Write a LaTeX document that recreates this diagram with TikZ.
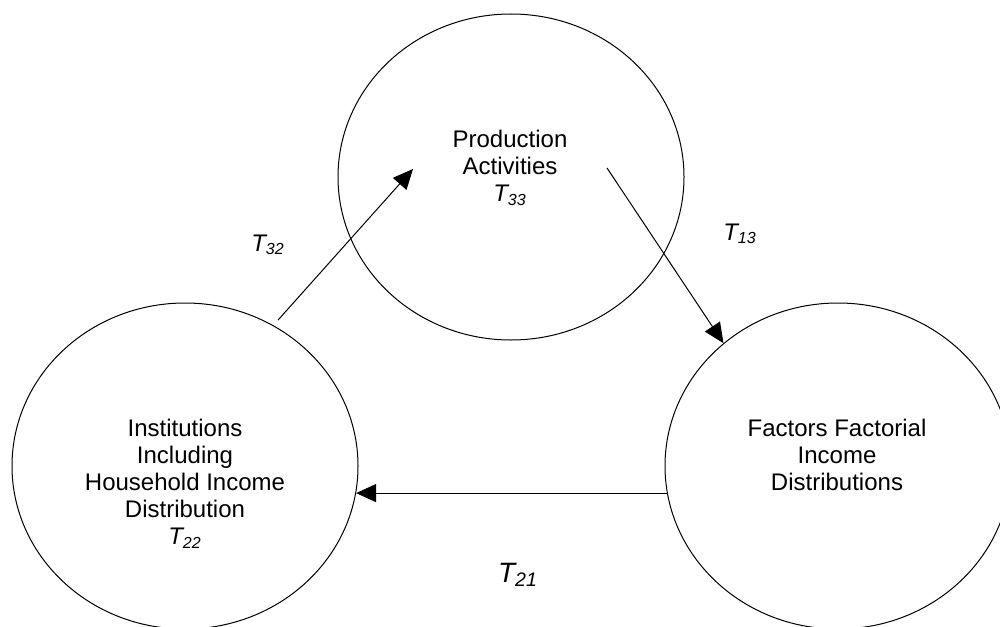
\documentclass[tikz,border=0pt]{standalone}
\usepackage{fontspec}
\setmainfont{Liberation Sans}
\usepackage{tikz}
\usetikzlibrary{positioning,shapes.geometric,arrows.meta}

\begin{document}
\begin{tikzpicture}[x=0.5pt, y=-0.5pt, >={Triangle[length=10pt, width=9pt]},
  every node/.style={font=\fontsize{12}{13.5}\selectfont}]
\tikzstyle{sector}=[draw, ellipse, line width=0.5pt, inner sep=0pt, minimum width=173pt, minimum height=163pt]
\tikzstyle{flow}=[->, line width=0.5pt]
\useasboundingbox (0,0) rectangle (1000,626);
\clip (0,0) rectangle (1000,626);
% the three sectors
\node[sector] (prod) at (511,177) {};
\node[sector] (inst) at (185,466) {};
\node[sector] (fact) at (838,466) {};
\node[align=center] (prodtxt) at (510,168) {Production\\Activities\\\textit{T\textsubscript{33}}};
\node[align=center] (insttxt) at (185,484) {Institutions\\Including\\Household Income\\Distribution\\\textit{T\textsubscript{22}}};
\node[align=center] (facttxt) at (837,455) {Factors Factorial\\Income\\Distributions};
% free ends inside the production circle
\coordinate (tip32) at (413,169);
\coordinate (tail13) at (607,168);
% flows
\draw[flow] ([shift={(0,-8)}]inst.56) -- (tip32);
\draw[flow] (tail13) -- (fact.133);
\draw[flow] (fact.189) -- (inst.-9);
% flow labels
\node (t32) at (268,245) {\textit{T\textsubscript{32}}};
\node (t13) at (740,234) {\textit{T\textsubscript{13}}};
\node[font=\fontsize{14}{16}\selectfont] (t21) at (518,575) {\textit{T\textsubscript{21}}};
\end{tikzpicture}
\end{document}
